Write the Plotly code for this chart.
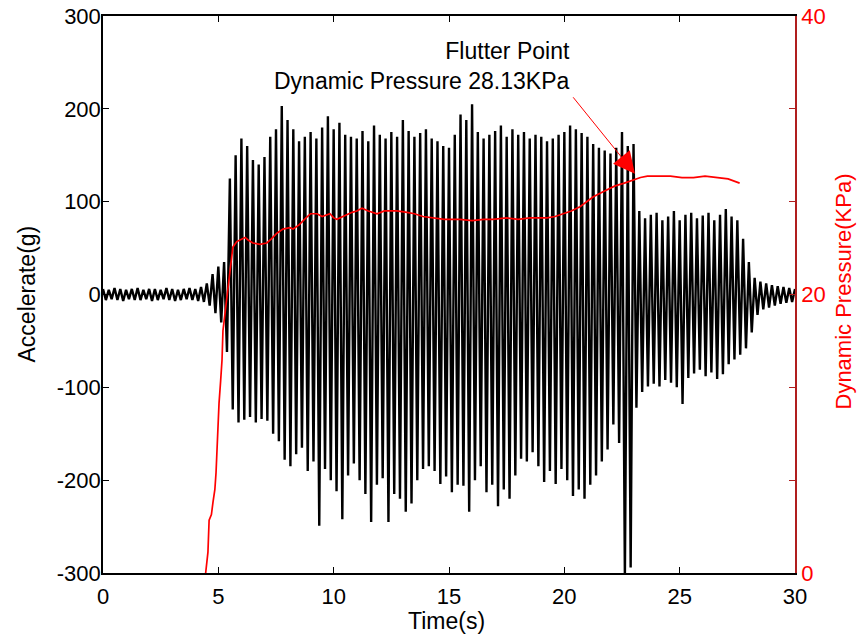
import numpy as np
import plotly.graph_objects as go

# acceleration signal: positive peaks (every 0.25 s from 0 s) and negative peaks (in between)
acc_pos = [6, 5, 7, 6, 5, 6, 7, 5, 6, 6, 5, 7, 6, 5, 6, 7, 6, 8,
           12, 22, 30, 35, 125, 150, 168, 160, 145, 140, 148, 170, 178, 203,
           188, 178, 165, 170, 175, 168, 180, 192, 178, 185, 172, 170, 168, 176,
           165, 182, 172, 168, 175, 170, 188, 176, 170, 174, 178, 168, 165, 160,
           158, 172, 194, 188, 205, 175, 168, 172, 176, 182, 170, 178, 172, 175,
           168, 172, 170, 165, 168, 172, 175, 182, 178, 174, 170, 162, 158, 155,
           152, 158, 175, 160, 162, 90, 82, 86, 88, 80, 84, 90, 80, 86, 88, 82,
           85, 88, 80, 86, 92, 84, 80, 60, 35, 18, 14, 12, 10, 9, 8, 7, 6]
acc_neg = [-6, -5, -6, -7, -5, -6, -6, -5, -7, -6, -5, -6, -7, -6, -5, -6, -7, -8,
           -12, -20, -30, -62, -124, -138, -135, -132, -138, -134, -136, -150,
           -158, -178, -185, -172, -165, -190, -180, -249, -188, -200, -212, -242,
           -195, -182, -200, -215, -245, -205, -198, -245, -215, -220, -234, -225,
           -200, -188, -185, -190, -204, -196, -213, -205, -206, -234, -200, -185,
           -213, -205, -228, -210, -220, -195, -177, -180, -170, -185, -202, -190,
           -204, -188, -200, -217, -210, -220, -205, -195, -180, -167, -140, -160,
           -305, -294, -122, -105, -99, -96, -99, -92, -95, -100, -118, -90, -85,
           -81, -88, -84, -91, -86, -75, -70, -65, -58, -41, -22, -16, -14, -12,
           -10, -9, -8]

# dynamic pressure (KPa)
p_time = [4.45, 4.55, 4.6, 4.7, 4.77, 4.85, 4.9, 4.95, 5.03, 5.1, 5.16, 5.2, 5.3,
          5.37, 5.5, 5.63, 5.8, 6.0, 6.16, 6.3, 6.5, 6.8, 7.1, 7.3, 7.54, 7.8,
          8.1, 8.24, 8.5, 8.8, 9.0, 9.28, 9.5, 9.84, 10.0, 10.14, 10.5, 10.8,
          11.0, 11.23, 11.5, 11.88, 12.2, 12.5, 12.74, 13.18, 13.5, 13.87, 14.3,
          14.8, 15.47, 16.0, 16.5, 16.9, 17.5, 18.0, 18.5, 19.25, 19.6, 19.94,
          20.3, 20.68, 21.24, 21.7, 22.2, 22.6, 22.97, 23.3, 23.6, 24.14, 24.6,
          25.1, 25.6, 26.1, 26.6, 27.1, 27.6]
pressure = [0, 1.5, 3.8, 4.2, 5.1, 6.0, 7.2, 9.5, 12.2, 13.8, 15.3, 17.4, 18.8,
            20.1, 21.9, 23.4, 23.8, 24.0, 24.1, 23.9, 23.7, 23.6, 23.7, 24.0,
            24.4, 24.7, 24.8, 24.7, 25.0, 25.5, 25.8, 25.8, 25.6, 25.8, 25.5,
            25.4, 25.7, 25.9, 26.0, 26.2, 26.0, 25.8, 26.0, 26.0, 26.0, 25.9,
            25.8, 25.6, 25.5, 25.4, 25.4, 25.3, 25.4, 25.4, 25.5, 25.4, 25.5,
            25.5, 25.6, 25.8, 26.0, 26.3, 27.0, 27.4, 27.8, 28.0, 28.2, 28.4,
            28.5, 28.5, 28.5, 28.4, 28.4, 28.5, 28.4, 28.3, 28.0]

x_ticks = [0, 5, 10, 15, 20, 25, 30]
y_ticks = [-300, -200, -100, 0, 100, 200, 300]
y_text = ['-300', '-200', '-100', '0', '100', '200', '300']
y2_ticks = [0, 20 / 3, 40 / 3, 20, 80 / 3, 100 / 3, 40]
y2_text = ['0', '', '', '20', '', '', '40']

# interleave positive / negative peaks into one trace
t_pos = np.arange(len(acc_pos)) * 0.25
t_neg = np.arange(len(acc_neg)) * 0.25 + 0.125
t_acc, v_acc = [], []
for i in range(len(acc_pos)):
    t_acc.append(t_pos[i]); v_acc.append(acc_pos[i])
    if i < len(acc_neg):
        t_acc.append(t_neg[i]); v_acc.append(acc_neg[i])

font = 'Liberation Sans, Arial, sans-serif'
red = '#FF0000'
axred = '#B01E1E'

fig = go.Figure()
fig.add_trace(go.Scatter(x=t_acc, y=v_acc, mode='lines',
                         line=dict(color='black', width=2.4), yaxis='y'))
fig.add_trace(go.Scatter(x=p_time, y=pressure, mode='lines',
                         line=dict(color=red, width=1.7), yaxis='y2'))

# arrow to the flutter point
fig.add_annotation(x=23.06, y=28.67, xref='x', yref='y2', ax=20.33, ay=34.27,
                   axref='x', ayref='y2', text='', showarrow=True,
                   arrowhead=2, arrowsize=4.3, arrowwidth=1, arrowcolor=red)
fig.add_annotation(x=20.33, y=36.4, xref='x', yref='y2', xanchor='right',
                   yanchor='middle', align='right', showarrow=False,
                   text='Flutter Point<br>Dynamic Pressure 28.13KPa',
                   font=dict(size=23, color='black', family=font))

# axis titles
fig.add_annotation(xref='paper', yref='paper', x=0, y=0.5, xshift=-77,
                   xanchor='center', yanchor='middle',
                   text='Accelerate(g)', textangle=-90, showarrow=False,
                   font=dict(size=23, color='black'))
fig.add_annotation(xref='paper', yref='paper', x=1, y=0.5, xshift=48, yshift=3,
                   xanchor='center', yanchor='middle',
                   text='Dynamic Pressure(KPa)', textangle=-90, showarrow=False,
                   font=dict(size=22, color=red))
fig.add_annotation(xref='paper', yref='paper', x=0.5, y=0, yshift=-48,
                   xshift=-3, xanchor='center', yanchor='middle',
                   text='Time(s)', showarrow=False,
                   font=dict(size=23, color='black'))

fig.update_layout(
    width=857, height=642,
    margin=dict(l=103, r=62, t=16, b=69),
    plot_bgcolor='white', paper_bgcolor='white',
    showlegend=False,
    font=dict(family=font, size=22, color='black'),
    xaxis=dict(range=[0, 30], tickvals=x_ticks, automargin=False,
               ticks='inside', ticklen=6, tickcolor='black',
               ticklabelstandoff=3, ticklabeloverflow='allow',
               showline=True, linecolor='black', linewidth=1.5, mirror='ticks',
               showgrid=False, zeroline=False),
    yaxis=dict(range=[-300, 300], tickvals=y_ticks, ticktext=y_text,
               automargin=False, ticklabelstandoff=-4,
               ticklabeloverflow='allow',
               ticks='inside', ticklen=6, tickcolor='black',
               showline=True, linecolor='black', linewidth=1.5,
               showgrid=False, zeroline=False),
    yaxis2=dict(range=[0, 40], overlaying='y', side='right', automargin=False,
                tickvals=y2_ticks, ticktext=y2_text, ticklabeloverflow='allow',
                ticks='inside', ticklen=6, tickcolor=axred,
                tickfont=dict(color=red, size=22),
                showline=True, linecolor=axred, linewidth=1.5,
                showgrid=False, zeroline=False),
)

# drop the default page margin so the figure fills the window exactly
fig.write_html('out.html', config={'displayModeBar': False},
               post_script="document.body.style.margin='0';")
